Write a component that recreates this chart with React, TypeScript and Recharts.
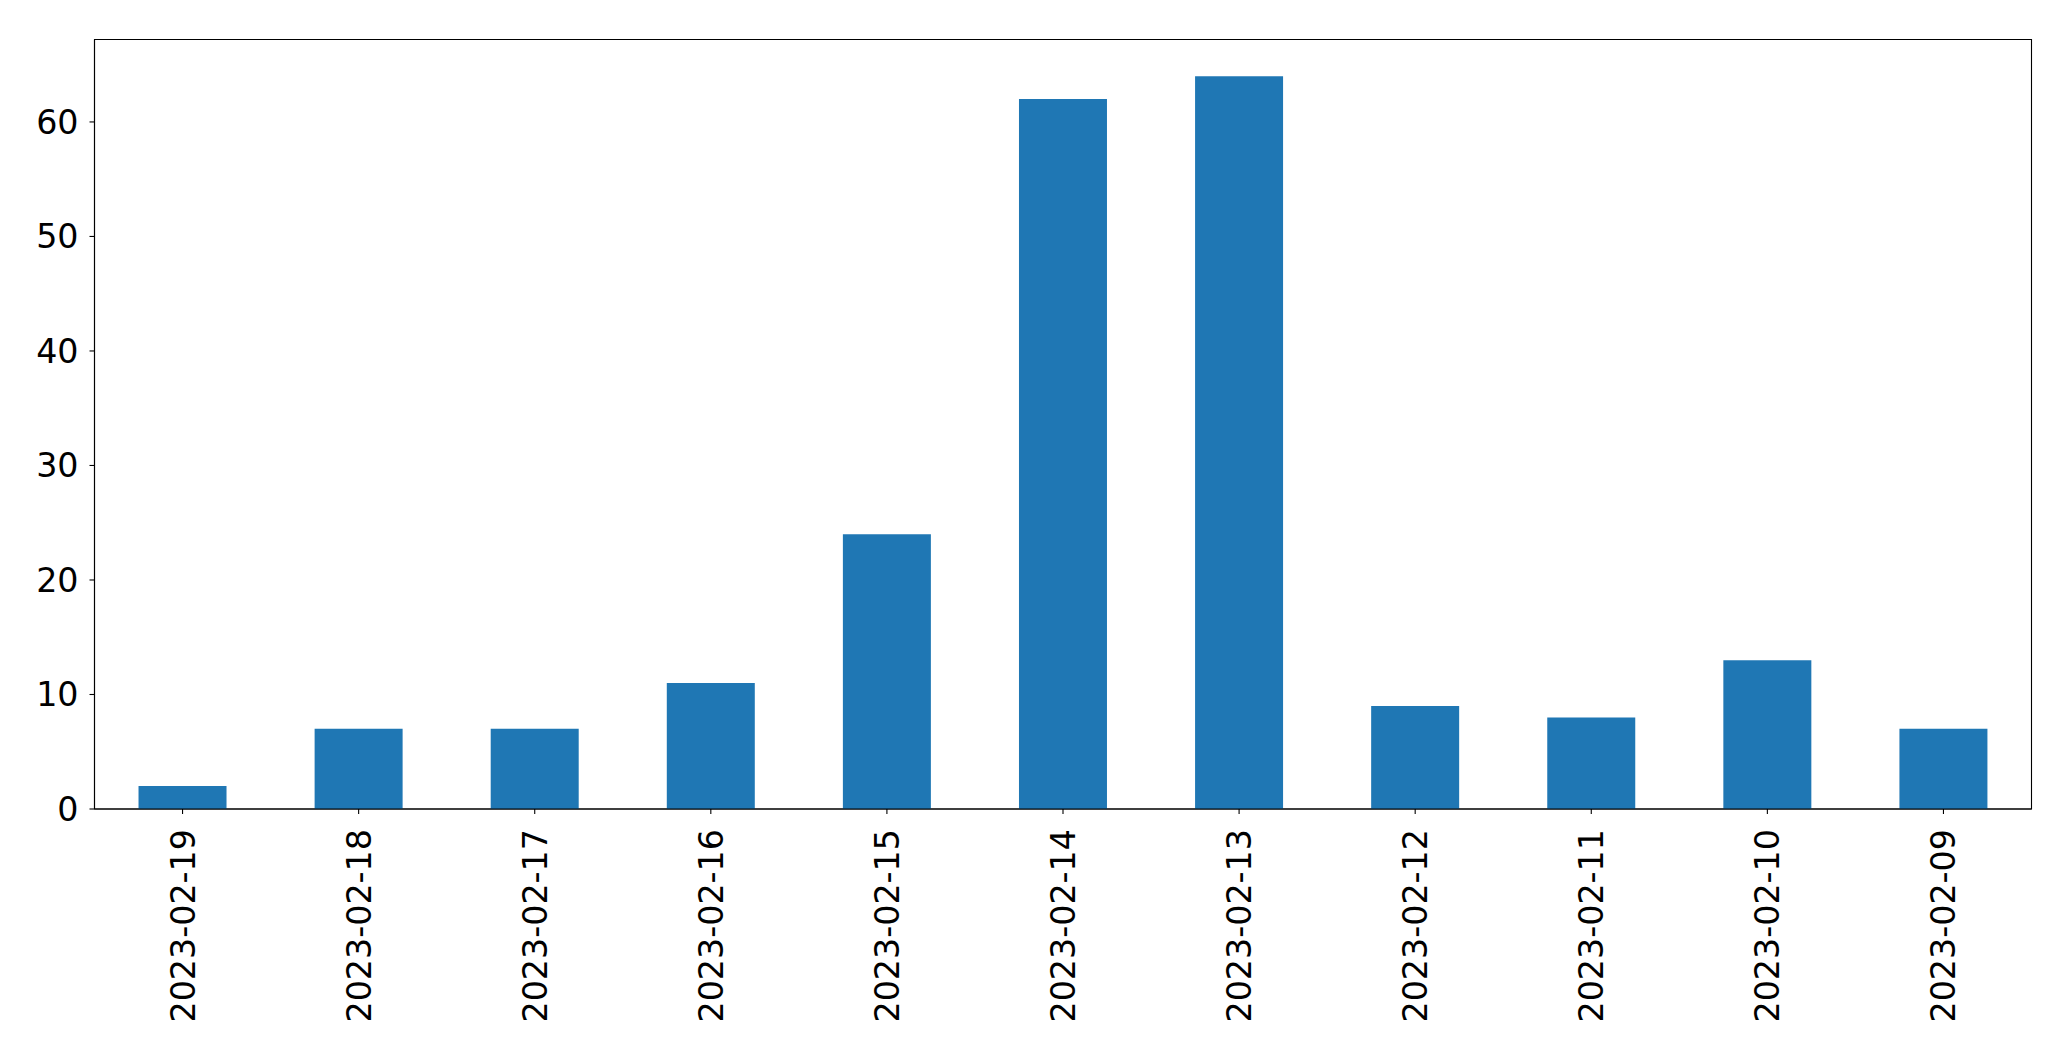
import { BarChart, Bar, XAxis, YAxis, ReferenceArea } from 'recharts'

// ─── data ────────────────────

const dates = [
  '2023-02-19',
  '2023-02-18',
  '2023-02-17',
  '2023-02-16',
  '2023-02-15',
  '2023-02-14',
  '2023-02-13',
  '2023-02-12',
  '2023-02-11',
  '2023-02-10',
  '2023-02-09',
]
const counts = [2, 7, 7, 11, 24, 62, 64, 9, 8, 13, 7]
const yTicks = [0, 10, 20, 30, 40, 50, 60]
const yMax = 67.2

const data = dates.map((date, i) => ({ date, count: counts[i] }))

const FONT = '"DejaVu Sans", sans-serif'
const FONT_SIZE = 33.3

function DateTick(props: any) {
  const { x, y, payload } = props
  return (
    <g transform={`translate(${x},${y + 13})`}>
      <text
        transform="rotate(-90)"
        textAnchor="end"
        dy="0.36em"
        fontFamily={FONT}
        fontSize={FONT_SIZE}
        fill="#000"
      >
        {payload.value}
      </text>
    </g>
  )
}

function CountTick(props: any) {
  const { x, y, payload } = props
  return (
    <text
      x={x - 9}
      y={y}
      dy="0.36em"
      textAnchor="end"
      fontFamily={FONT}
      fontSize={FONT_SIZE}
      fill="#000"
    >
      {payload.value}
    </text>
  )
}

export default function App() {
  return (
    <div style={{ position: 'absolute', left: 0, top: 0, background: '#fff' }}>
      <BarChart
        width={2071}
        height={1061}
        data={data}
        margin={{ top: 39.5, right: 39.5, left: 0, bottom: 0 }}
        barCategoryGap="25%"
      >
        <XAxis
          dataKey="date"
          height={252}
          interval={0}
          tick={<DateTick />}
          tickSize={5}
          stroke="#000"
          tickLine={{ stroke: '#000', strokeWidth: 1.1 }}
          axisLine={{ stroke: '#000', strokeWidth: 1.1 }}
        />
        <YAxis
          width={94.5}
          domain={[0, yMax]}
          ticks={yTicks}
          interval={0}
          allowDataOverflow
          tickSize={5}
          stroke="#000"
          tick={<CountTick />}
          tickLine={{ stroke: '#000', strokeWidth: 1.1 }}
          axisLine={{ stroke: '#000', strokeWidth: 1.1 }}
        />
        <Bar dataKey="count" fill="#1f77b4" isAnimationActive={false} />
        <ReferenceArea
          x1={dates[0]}
          x2={dates[dates.length - 1]}
          y1={0}
          y2={yMax}
          fill="none"
          fillOpacity={0}
          stroke="#000"
          strokeWidth={1.1}
          ifOverflow="visible"
        />
      </BarChart>
    </div>
  )
}
